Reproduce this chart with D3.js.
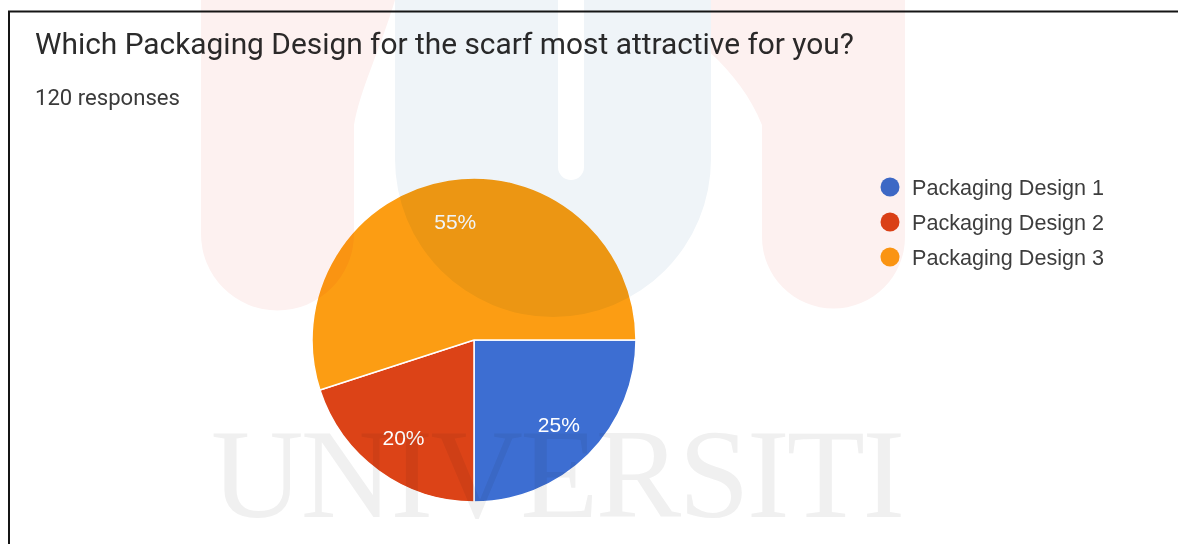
<!DOCTYPE html>
<html>
<head>
<meta charset="utf-8">
<script src="https://cdn.jsdelivr.net/npm/d3@7"></script>
<style>
  html, body { margin: 0; padding: 0; background: #ffffff; }
  svg { display: block; }
</style>
</head>
<body>
<svg id="chart" width="1178" height="544"></svg>
<script>
// ---- data ----
const titleText = "Which Packaging Design for the scarf most attractive for you?";
const responsesText = "120 responses";
const categories = ["Packaging Design 1", "Packaging Design 2", "Packaging Design 3"];
const counts = [30, 24, 66];
const colors = ["#3d6ed2", "#dc4317", "#fc9d13"];
const watermarkText = "UNIVERSITI";

// ---- layout ----
const W = 1178, H = 544;
const cx = 474, cy = 340, R = 162, labelR = 120;

const svg = d3.select("#chart");
svg.append("rect").attr("width", W).attr("height", H).attr("fill", "#ffffff");

// frame (top and left edges visible)
svg.append("line").attr("x1", 8).attr("x2", W).attr("y1", 11.5).attr("y2", 11.5)
  .attr("stroke", "#151515").attr("stroke-width", 2);
svg.append("line").attr("x1", 9).attr("x2", 9).attr("y1", 11).attr("y2", H)
  .attr("stroke", "#151515").attr("stroke-width", 2);

// title + subtitle
function fitText(sel, target) {
  const w = sel.node().getComputedTextLength();
  const fs = parseFloat(sel.attr("font-size"));
  sel.attr("font-size", (fs * target / w).toFixed(2));
}
const t1 = svg.append("text").attr("x", 35).attr("y", 54)
  .attr("font-family", "Roboto, 'Noto Sans', sans-serif").attr("font-size", 28)
  .attr("fill", "#2b2b2b").text(titleText);
fitText(t1, 819);
const t2 = svg.append("text").attr("x", 35).attr("y", 105)
  .attr("font-family", "Roboto, 'Noto Sans', sans-serif").attr("font-size", 20)
  .attr("fill", "#3a3a3a").text(responsesText);
fitText(t2, 145);

// pie
const total = d3.sum(counts);
const data = categories.map((c, i) => ({ name: c, value: counts[i], color: colors[i] }));
const pie = d3.pie().sort(null).value(d => d.value)
  .startAngle(Math.PI / 2).endAngle(Math.PI / 2 + 2 * Math.PI);
const arcs = pie(data);
const arc = d3.arc().innerRadius(0).outerRadius(R);
const labelArc = d3.arc().innerRadius(labelR).outerRadius(labelR);

const g = svg.append("g").attr("transform", `translate(${cx},${cy})`);
g.selectAll("path.slice").data(arcs).join("path")
  .attr("class", "slice")
  .attr("d", arc)
  .attr("fill", d => d.data.color)
  .attr("stroke", "#ffffff").attr("stroke-width", 1.5);

g.selectAll("text.lbl").data(arcs).join("text")
  .attr("class", "lbl")
  .attr("transform", d => `translate(${labelArc.centroid(d)})`)
  .attr("text-anchor", "middle").attr("dy", "0.36em")
  .attr("font-family", "Arial, 'Liberation Sans', sans-serif").attr("font-size", 21)
  .attr("fill", "#ffffff")
  .text(d => Math.round(d.data.value / total * 100) + "%");

// legend
const legend = svg.append("g").attr("transform", "translate(890,187)");
const item = legend.selectAll("g").data(data).join("g")
  .attr("transform", (d, i) => `translate(0,${i * 35})`);
item.append("circle").attr("r", 9.5).attr("fill", d => d.color);
item.append("text").attr("x", 22).attr("dy", "0.36em")
  .attr("font-family", "Arial, 'Liberation Sans', sans-serif").attr("font-size", 21.6)
  .attr("fill", "#3d3d3d").text(d => d.name);

// faint watermark (multiplied over everything)
const wm = svg.append("g").style("mix-blend-mode", "multiply");
const pink = "#fdf1f0", blue = "#eff4f8";
// left pink pillar
wm.append("path").attr("fill", pink)
  .attr("d", "M201,0 L395,0 C380,50 360,90 354,125 L354,234 A76.5,76.5 0 0 1 201,234 Z");
// right pink pillar
wm.append("path").attr("fill", pink)
  .attr("d", "M635,0 L905,0 L905,237 A71.5,71.5 0 0 1 762,237 L762,125 C740,70 690,30 635,0 Z");
// middle blue U with white slit
wm.append("path").attr("fill", blue).attr("fill-rule", "evenodd")
  .attr("d", "M395,0 L711,0 L711,159 A158,158 0 0 1 395,159 Z M558,0 L584,0 L584,167 A13,13 0 0 1 558,167 Z");
wm.append("text").attr("x", 211).attr("y", 517)
  .attr("font-family", "'Liberation Serif', 'DejaVu Serif', serif").attr("font-size", 128)
  .attr("textLength", 694).attr("lengthAdjust", "spacing")
  .attr("fill", "#f0f0f0").text(watermarkText);
</script>
</body>
</html>
